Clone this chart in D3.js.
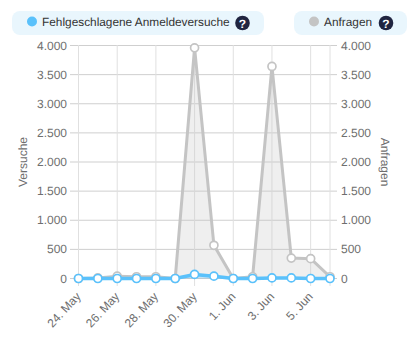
<!DOCTYPE html>
<html>
<head>
<meta charset="utf-8">
<script src="https://cdn.jsdelivr.net/npm/d3@7"></script>
<style>
  html, body { margin: 0; padding: 0; background: #fff; }
  svg { display: block; font-family: "Liberation Sans", Arial, sans-serif; text-rendering: geometricPrecision; }
</style>
</head>
<body>
<div id="chart"></div>
<script>
const dates = ["24. May", "25. May", "26. May", "27. May", "28. May", "29. May", "30. May", "31. May", "1. Jun", "2. Jun", "3. Jun", "4. Jun", "5. Jun", "6. Jun"]
const tickLabels = ["24. May", "26. May", "28. May", "30. May", "1. Jun", "3. Jun", "5. Jun"]
const yTicks = [0, 500, 1000, 1500, 2000, 2500, 3000, 3500, 4000]
const requests = [0, 10, 40, 30, 30, 0, 3960, 570, 0, 30, 3640, 350, 340, 30]
const failedLogins = [0, 0, 0, 0, 0, 0, 70, 40, 0, 0, 10, 10, 0, 0]
const legendItems = ["Fehlgeschlagene Anmeldeversuche", "Anfragen"]

const width = 407, height = 353
const svg = d3.select("#chart").append("svg")
    .attr("width", width)
    .attr("height", height)

const x = d3.scalePoint().domain(dates).range([78.5, 330])
const y = d3.scaleLinear().domain([0, 4000]).range([278.5, 45.5])
const fmt = d => d === 0 ? "0" : d3.format(",")(d).replace(",", ".")

// Gitter
svg.append("g").selectAll("line")
    .data(yTicks)
    .join("line")
    .attr("x1", 70).attr("x2", 337)
    .attr("y1", d => y(d)).attr("y2", d => y(d))
    .attr("stroke", "#cfcfcf")

svg.append("g").selectAll("line")
    .data([...tickLabels, "6. Jun"])
    .join("line")
    .attr("x1", d => x(d)).attr("x2", d => x(d))
    .attr("y1", 45).attr("y2", 286)
    .attr("stroke", "#e0e0e0")

// Achsen
svg.append("g").selectAll("text")
    .data(yTicks)
    .join("text")
    .attr("x", 67).attr("y", d => y(d) + 4)
    .attr("text-anchor", "end")
    .attr("font-size", 12).attr("fill", "#6e6e6e")
    .text(fmt)

svg.append("g").selectAll("text")
    .data(yTicks)
    .join("text")
    .attr("x", 341).attr("y", d => y(d) + 4)
    .attr("font-size", 12).attr("fill", "#6e6e6e")
    .text(fmt)

svg.append("g").selectAll("text")
    .data(tickLabels)
    .join("text")
    .attr("text-anchor", "end")
    .attr("transform", d => `translate(${x(d) + 3},${297}) rotate(-47)`)
    .attr("font-size", 12).attr("fill", "#6e6e6e")
    .text(d => d)

svg.append("text")
    .attr("transform", "translate(27,162) rotate(-90)")
    .attr("text-anchor", "middle")
    .attr("font-size", 12).attr("fill", "#6e6e6e")
    .text("Versuche")

svg.append("text")
    .attr("transform", "translate(381,162) rotate(90)")
    .attr("text-anchor", "middle")
    .attr("font-size", 12).attr("fill", "#6e6e6e")
    .text("Anfragen")

// Flaechen und Linien
const area = d3.area().x((d, i) => x(dates[i])).y0(y(0)).y1(d => y(d))
const line = d3.line().x((d, i) => x(dates[i])).y(d => y(d))

function drawSeries(values, color, fill, fillOpacity, lineWidth) {
    svg.append("path")
        .attr("d", area(values))
        .attr("fill", fill)
        .attr("fill-opacity", fillOpacity)
    svg.append("path")
        .attr("d", line(values))
        .attr("fill", "none")
        .attr("stroke", color)
        .attr("stroke-width", lineWidth)
        .attr("stroke-linejoin", "round")
    svg.append("g").selectAll("circle")
        .data(values)
        .join("circle")
        .attr("cx", (d, i) => x(dates[i]))
        .attr("cy", d => y(d))
        .attr("r", 4)
        .attr("fill", "#fff")
        .attr("stroke", color)
        .attr("stroke-width", 1.7)
}

drawSeries(requests, "#c4c4c4", "#c4c4c4", 0.27, 3)
drawSeries(failedLogins, "#5ac1fb", "#5ac1fb", 0.3, 3.5)

// Legende
const pills = [
    { x: 12, w: 252, color: "#5ac1fb", tx: 42, qx: 242.5 },
    { x: 294, w: 113, color: "#c4c4c4", tx: 324, qx: 386 }
]
pills.forEach((p, i) => {
    svg.append("rect")
        .attr("x", p.x).attr("y", 11)
        .attr("width", p.w).attr("height", 24)
        .attr("rx", 8)
        .attr("fill", "#e9f6fd")
    svg.append("circle")
        .attr("cx", p.tx - 10).attr("cy", 21.5)
        .attr("r", 5)
        .attr("fill", p.color)
    svg.append("text")
        .attr("x", p.tx).attr("y", 26)
        .attr("font-size", 11.85).attr("fill", "#333")
        .text(legendItems[i])
    svg.append("circle")
        .attr("cx", p.qx).attr("cy", 23)
        .attr("r", 7.3)
        .attr("fill", "#1f2440")
    svg.append("text")
        .attr("x", p.qx).attr("y", 27.5)
        .attr("text-anchor", "middle")
        .attr("font-size", 12).attr("font-weight", "bold").attr("fill", "#fff")
        .text("?")
})
</script>
</body>
</html>
